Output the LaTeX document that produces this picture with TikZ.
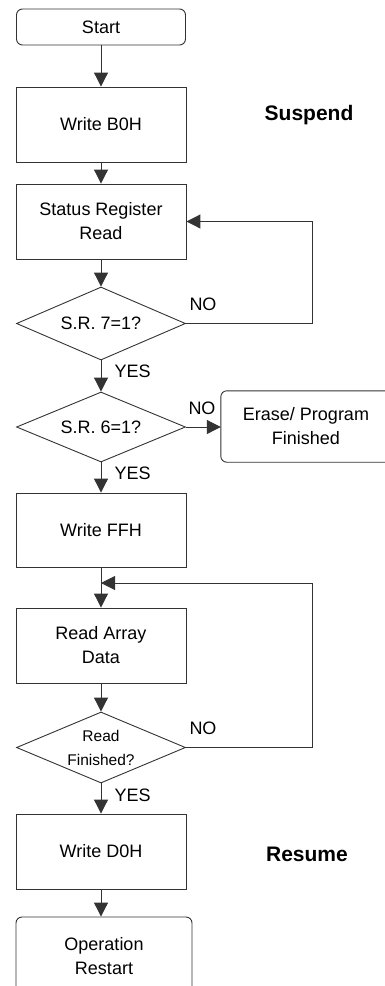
\documentclass[tikz,border=0pt]{standalone}
\usepackage{fontspec}
\setmainfont{Liberation Sans}
\usetikzlibrary{shapes.geometric,arrows.meta}
\begin{document}
\begin{tikzpicture}[x=1pt,y=-1pt,
  every node/.style={font=\fontsize{18}{24}\selectfont, text=black},
  box/.style={draw=black!80, line width=0.9pt, minimum width=170pt, inner sep=0pt, align=center},
  term/.style={box, rounded corners=6pt},
  dec/.style={draw=black!80, line width=0.9pt, diamond, shape aspect=2.3, minimum width=169pt, inner sep=0pt, align=center},
  arr/.style={draw=black!80, line width=1pt, -{Triangle[length=14pt,width=14pt]}},
  ln/.style={draw=black!80, line width=1pt},
  lbl/.style={font=\fontsize{18}{22}\selectfont},
  hd/.style={font=\fontsize{21}{24}\selectfont\bfseries}
]
\useasboundingbox (0,0) rectangle (385,986);
\node[term, minimum height=36pt, minimum width=169pt] (start) at (101,27) {Start};
\node[box, minimum height=75pt] (wb) at (101,124.5) {Write B0H};
\node[box, minimum height=75pt] (srr) at (101,221.5) {Status Register\\Read};
\node[dec, minimum height=73pt] (d1) at (101,323.5) {S.R. 7=1?};
\node[dec, minimum height=70pt] (d2) at (101,427) {S.R. 6=1?};
\node[minimum width=170pt, minimum height=71pt, inner sep=0pt, align=center] (ep) at (306,426.5) {Erase/ Program\\Finished};
\draw[black!80, line width=0.9pt, rounded corners=6pt] (ep.south west) rectangle ([xshift=25pt]ep.north east);
\node[box, minimum height=74pt] (wf) at (101,530) {Write FFH};
\coordinate (m) at (101,583);
\node[box, minimum height=75pt] (rad) at (101,645.5) {Read Array\\Data};
\node[dec, minimum height=71pt, font=\fontsize{15.5}{24}\selectfont] (d3) at (101,747.5) {Read\\Finished?};
\node[box, minimum height=75pt] (wd) at (101,851.5) {Write D0H};
\node[term, minimum width=176pt, minimum height=78pt] (or) at (104,956) {Operation\\Restart};
\coordinate (r1) at (312,0);

\node[hd] (susp) at (309,115) {Suspend};
\node[hd] (res) at (307,854) {Resume};

\draw[arr] (start) -- (wb);
\draw[arr] (wb) -- (srr);
\draw[arr] (srr) -- (d1);
\draw[arr] (d1) -- (d2);
\draw[arr] (d2) -- (wf);
\draw[ln] (wf) -- (m);
\draw[arr] (m) -- (rad);
\draw[arr] (rad) -- (d3);
\draw[arr] (d3) -- (wd);
\draw[arr] (wd.south) -- (wd.south |- or.north);
\draw[arr] (d2.east) -- (d2.east -| ep.west);
\draw[arr] (d1.east) -- (d1.east -| r1) |- (srr.east);
\draw[arr] (d3.east) -- (d3.east -| r1) |- (m);

\node[lbl] (no1) at (203,304) {NO};
\node[lbl, anchor=west] (yes1) at (111,371) {YES};
\node[lbl] (no2) at (202,408) {NO};
\node[lbl, anchor=west] (yes2) at (111,473) {YES};
\node[lbl] (no3) at (203,728) {NO};
\node[lbl, anchor=west] (yes3) at (111,795) {YES};
\end{tikzpicture}
\end{document}
